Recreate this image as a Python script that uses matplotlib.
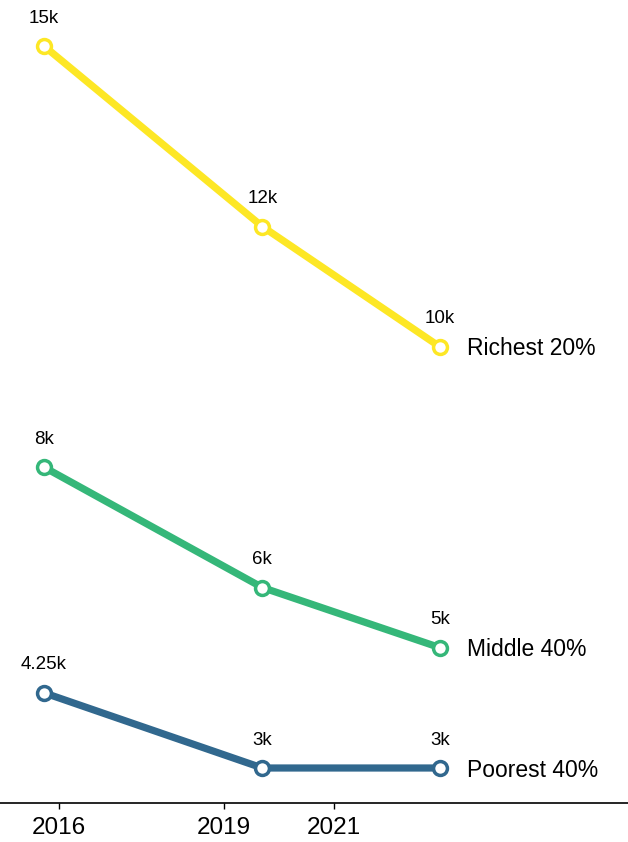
import matplotlib.pyplot as plt

plt.rcParams['font.family'] = ['Liberation Sans', 'DejaVu Sans']

# approximate positions of the survey points (fractional years)
years = [2015.73, 2019.70, 2022.93]
tick_years = [2016, 2019, 2021]

groups = ['Richest 20%', 'Middle 40%', 'Poorest 40%']
richest = [15, 12, 10]
middle = [8, 6, 5]
poorest = [4.25, 3, 3]
value_labels = [['15k', '12k', '10k'], ['8k', '6k', '5k'], ['4.25k', '3k', '3k']]
colors = ['#fde725', '#35b779', '#31688e']

fig = plt.figure(figsize=(6.28, 8.42), dpi=100)
ax = fig.add_axes([0, 0.0463, 1, 0.9537])

for name, vals, labs, c in zip(groups, [richest, middle, poorest], value_labels, colors):
    ax.plot(years, vals, color=c, lw=5.2, marker='o', ms=10, mfc='white',
            mec=c, mew=2.5, solid_capstyle='round', zorder=3)
    for x, y, t in zip(years, vals, labs):
        ax.annotate(t, (x, y), xytext=(0, 14), textcoords='offset points',
                    ha='center', va='bottom', fontsize=13.5)
    ax.annotate(name, (years[-1], vals[-1]), xytext=(19.5, -1.5), textcoords='offset points',
                ha='left', va='center', fontsize=16.5)

ax.set_xlim(2014.93, 2026.35)
ax.set_ylim(2.418, 15.765)
ax.set_xticks(tick_years)
ax.set_xticklabels([str(t) for t in tick_years], fontsize=17.5)
ax.set_yticks([])
for s in ['top', 'right', 'left']:
    ax.spines[s].set_visible(False)
ax.spines['bottom'].set_linewidth(1.2)
ax.tick_params(axis='x', length=4, width=1, pad=6)

fig.savefig('out.png', dpi=100)
